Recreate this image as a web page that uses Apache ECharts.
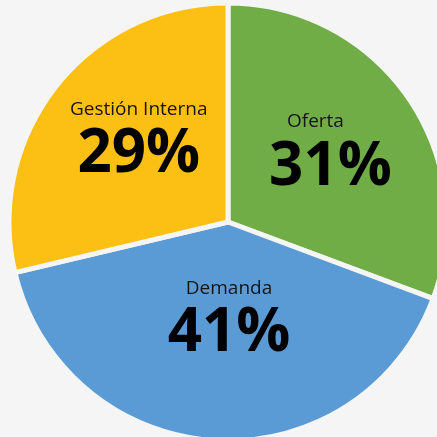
<!DOCTYPE html>
<html>
<head>
<meta charset="utf-8">
<script src="https://cdn.jsdelivr.net/npm/echarts@6/dist/echarts.min.js"></script>
<style>
  html, body { margin: 0; padding: 0; background: #f5f5f5; }
  #chart { width: 437px; height: 437px; }
</style>
</head>
<body>
<div id="chart"></div>
<script>
var names = ['Oferta', 'Demanda', 'Gestión Interna'];
var values = [31, 41, 29];
var colors = ['#70AD47', '#5B9BD5', '#FCBF14'];
// nudges for the labels, px
var labelShift = [[10, -5], [8, -15], [-1, -12]];
// extra right padding on the name line (shifts name left)
var namePadRight = [30, 0, 0];

var chart = echarts.init(document.getElementById('chart'));
var data = names.map(function (n, i) {
  return {
    name: n,
    value: values[i],
    itemStyle: { color: colors[i] },
    label: {
      offset: labelShift[i],
      rich: {
        n: { fontFamily: 'Open Sans', fontSize: 19, color: '#151515', lineHeight: 30, padding: [0, namePadRight[i], 0, 0] },
        v: { fontFamily: 'Open Sans', fontSize: 60, fontWeight: 'bold', color: '#000', lineHeight: 62 }
      }
    }
  };
});

var option = {
  backgroundColor: '#f5f5f5',
  series: [{
    type: 'pie',
    center: [228, 222],
    radius: 219,
    startAngle: 90,
    clockwise: true,
    animation: false,
    itemStyle: { borderColor: '#f5f5f5', borderWidth: 5 },
    label: {
      position: 'inside',
      formatter: '{n|{b}}\n{v|{c}%}'
    },
    labelLine: { show: false },
    data: data
  }]
};
chart.setOption(option);
</script>
</body>
</html>
